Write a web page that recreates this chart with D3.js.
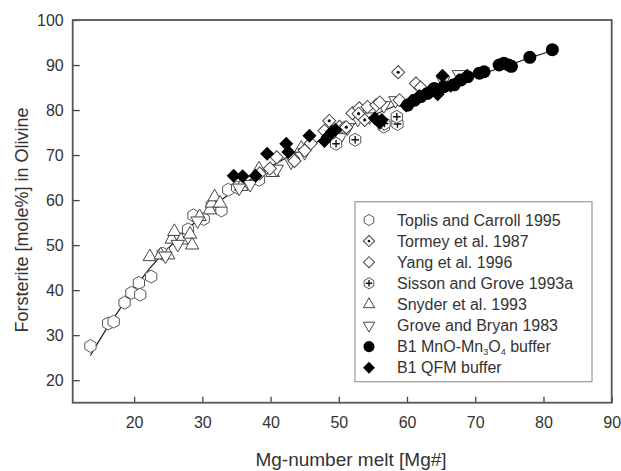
<!DOCTYPE html>
<html><head><meta charset="utf-8">
<script src="https://cdn.jsdelivr.net/npm/d3@7"></script>
<style>body{margin:0;background:#fff}svg{display:block}text{font-family:"Liberation Sans",Arial,sans-serif;fill:#333}</style>
</head><body>
<svg id="c" width="621" height="471"></svg>
<script>
const xTicks = [20,30,40,50,60,70,80,90];
const yTicks = [20,30,40,50,60,70,80,90,100];

const toplis = [[13.6,27.6],[16.2,32.6],[17.0,33.0],[18.6,37.2],[19.6,39.4],[20.7,41.6],[20.9,39.0],[22.5,43.0],[24.2,48.1],[27.9,53.5],[28.7,56.6],[30.2,55.8],[31.4,58.9],[32.8,57.7],[33.8,62.3],[35.1,62.8],[38.3,64.5]];
const snyder = [[22.3,47.4],[23.9,47.8],[25.0,47.8],[25.5,51.3],[25.9,53.0],[26.9,51.1],[28.2,52.4],[28.5,50.0],[29.6,56.3],[31.1,57.8],[31.4,59.3],[31.8,60.7],[32.6,59.3],[35.7,63.0],[38.3,66.9],[40.3,66.1],[44.5,71.5]];
const grove = [[24.6,47.6],[26.4,50.2],[29.3,55.4],[35.4,62.7],[37.0,63.5],[40.9,66.9],[43.0,68.5],[45.0,70.6],[50.2,73.9],[51.3,76.1],[52.8,78.0],[54.5,78.5],[56.6,81.0],[58.3,82.1],[65.3,86.5],[67.6,87.9]];
const yang = [[38.4,65.9],[39.9,67.0],[40.9,69.5],[43.3,69.3],[43.5,68.7],[45.0,71.0],[45.9,72.6],[47.9,75.4],[48.7,74.3],[50.1,76.3],[50.8,76.1],[52.0,79.3],[53.0,80.4],[54.2,80.7],[55.5,81.1],[56.0,81.7],[58.9,82.2],[61.3,85.9],[62.0,85.0]];
const tormey = [[58.7,88.4],[48.6,77.6],[51.1,76.2],[52.9,79.2],[53.8,77.8]];
const sisson = [[49.6,72.5],[52.4,73.4],[56.6,76.3],[58.6,76.9],[58.5,78.5],[56.7,77.0]];
const qfm = [[34.6,65.4],[35.9,65.3],[37.8,65.4],[39.5,70.3],[42.3,72.5],[42.6,70.7],[45.7,74.3],[47.9,73.1],[48.4,74.1],[49.0,75.2],[49.5,75.6],[55.3,78.2],[56.3,77.8],[56.0,77.2],[59.9,81.0],[60.7,82.0],[61.8,83.1],[63.3,84.2],[64.5,83.5],[65.2,87.6],[66.4,85.4],[67.6,86.6],[68.8,87.6]];
const mno = [[60.1,81.1],[61.1,82.2],[62.0,83.0],[63.0,83.7],[64.0,84.8],[64.5,84.2],[65.4,85.2],[66.9,85.6],[67.9,86.7],[68.9,87.4],[70.6,88.2],[71.3,88.5],[73.5,90.0],[74.2,90.4],[74.9,90.0],[75.3,89.7],[78.0,91.7],[81.3,93.4]];
const fitLine = [[13.6,25.5],[16,31.5],[18,36],[20,40.3],[22,44.3],[25,49.3],[28,53.8],[31,57.8],[34,61.4],[37,64.5],[40,67.4],[45,71.5],[50,75.3],[55,78.8],[60,82],[65,85],[70,87.6],[75,90],[78,91.6],[81.5,93.3]];

const legendLabels = ["Toplis and Carroll 1995","Tormey et al. 1987","Yang et al. 1996","Sisson and Grove 1993a","Snyder et al. 1993","Grove and Bryan 1983","B1 MnO-Mn3O4 buffer","B1 QFM buffer"];

const svg = d3.select("#c");
const L=72.7,R=611.7,T=20,B=402.7;
const x = d3.scaleLinear().domain([11,90]).range([L,R]);
const y = d3.scaleLinear().domain([15,100]).range([B,T]);

const gx = svg.append("g").attr("transform",`translate(0,${B})`)
  .call(d3.axisBottom(x).tickValues(xTicks).tickSizeInner(-6).tickSizeOuter(0).tickPadding(14));
const gy = svg.append("g").attr("transform",`translate(${L},0)`)
  .call(d3.axisLeft(y).tickValues(yTicks).tickSizeInner(-7).tickSizeOuter(0).tickPadding(9));
[gx,gy].forEach(g=>{
  g.select(".domain").remove();
  g.selectAll("line").attr("stroke","#444").attr("stroke-width",1.3);
  g.selectAll("text").attr("font-size",16).attr("fill","#333").style("font-family",'"Liberation Sans",Arial,sans-serif');
});
svg.append("rect").attr("x",L).attr("y",T).attr("width",R-L).attr("height",B-T)
  .attr("fill","none").attr("stroke","#555").attr("stroke-width",1.8);

svg.append("path").datum(fitLine)
  .attr("d",d3.line().x(d=>x(d[0])).y(d=>y(d[1])).curve(d3.curveMonotoneX))
  .attr("fill","none").attr("stroke","#111").attr("stroke-width",1.1);

function hexPath(r){
  const pts=d3.range(6).map(i=>{const a=Math.PI/6+i*Math.PI/3;return [r*Math.cos(a),r*Math.sin(a)];});
  return "M"+pts.map(p=>p.join(",")).join("L")+"Z";
}
const sym = {
  hex: (g,s)=>{g.append("path").attr("d",hexPath(6.5*s)).attr("fill","#fff").attr("stroke","#555").attr("stroke-width",1);},
  dot: (g,s)=>{g.append("path").attr("d",d3.symbol(d3.symbolSquare,85*s*s)()).attr("transform","rotate(45)").attr("fill","#fff").attr("stroke","#444").attr("stroke-width",1);
               g.append("circle").attr("r",1.6*s).attr("fill","#111");},
  dia: (g,s)=>{g.append("path").attr("d",d3.symbol(d3.symbolSquare,85*s*s)()).attr("transform","rotate(45)").attr("fill","#fff").attr("stroke","#444").attr("stroke-width",1);},
  plus:(g,s)=>{g.append("path").attr("d",hexPath(6.5*s)).attr("fill","#fff").attr("stroke","#555").attr("stroke-width",1);
               g.append("path").attr("d",`M${-3.8*s},0H${3.8*s}M0,${-3.8*s}V${3.8*s}`).attr("stroke","#111").attr("stroke-width",1.4);},
  up:  (g,s)=>{g.append("path").attr("d",d3.symbol(d3.symbolTriangle,78*s*s)()).attr("fill","#fff").attr("stroke","#444").attr("stroke-width",1);},
  down:(g,s)=>{g.append("path").attr("d",d3.symbol(d3.symbolTriangle,78*s*s)()).attr("transform","rotate(180)").attr("fill","#fff").attr("stroke","#444").attr("stroke-width",1);},
  circ:(g,s)=>{g.append("circle").attr("r",6.5*s).attr("fill","#000");},
  fdia:(g,s)=>{g.append("path").attr("d",d3.symbol(d3.symbolSquare,98*s*s)()).attr("transform","rotate(45)").attr("fill","#000");}
};
const series = [
  [toplis,"hex"],[snyder,"up"],[grove,"down"],[yang,"dia"],[tormey,"dot"],[sisson,"plus"],[qfm,"fdia"],[mno,"circ"]
];
series.forEach(([data,k])=>{
  svg.append("g").selectAll("g").data(data).join("g")
    .attr("transform",d=>`translate(${x(d[0])},${y(d[1])})`)
    .each(function(){ sym[k](d3.select(this),1); });
});

const lg = svg.append("g");
lg.append("rect").attr("x",355).attr("y",201.7).attr("width",237).attr("height",180)
  .attr("fill","#fff").attr("stroke","#999").attr("stroke-width",1.2);
const legKeys = ["hex","dot","dia","plus","up","down","circ","fdia"];
legendLabels.forEach((lab,i)=>{
  const cy = 220 + i*21.1;
  const g = lg.append("g").attr("transform",`translate(369,${cy})`);
  sym[legKeys[i]](g,0.85);
  const t = lg.append("text").attr("x",397).attr("y",cy).attr("dy","0.35em").attr("font-size",16);
  if(lab.indexOf("Mn3O4")>=0){
    t.append("tspan").text("B1 MnO-Mn");
    t.append("tspan").text("3").attr("font-size",9).attr("dy",3);
    t.append("tspan").text("O").attr("dy",-3);
    t.append("tspan").text("4").attr("font-size",9).attr("dy",3);
    t.append("tspan").text(" buffer").attr("dy",-3);
  } else t.text(lab);
});

svg.append("text").attr("x",351).attr("y",466).attr("text-anchor","middle").attr("font-size",19).text("Mg-number melt [Mg#]");
svg.append("text").attr("transform","translate(28,220) rotate(-90)").attr("text-anchor","middle").attr("font-size",18).text("Forsterite [mole%] in Olivine");
</script>
</body></html>
